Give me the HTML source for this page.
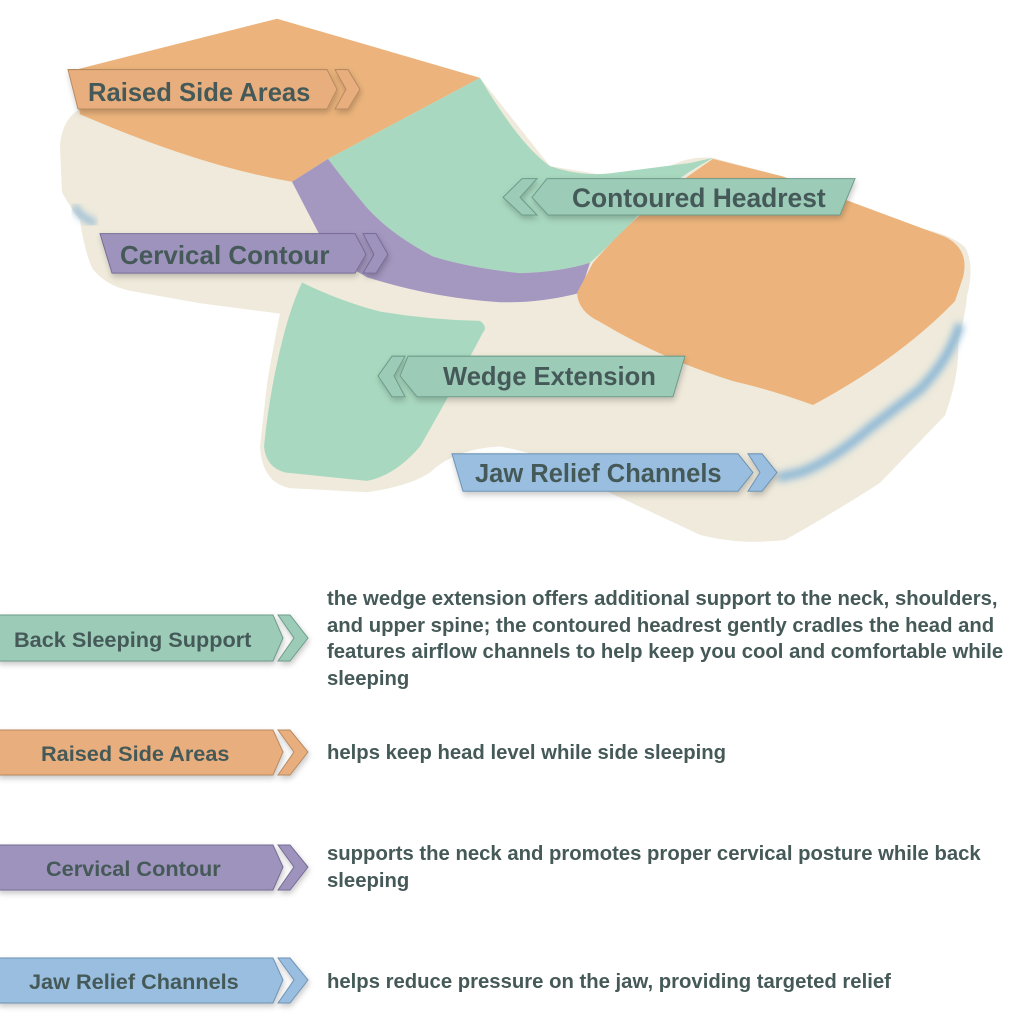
<!DOCTYPE html>
<html><head><meta charset="utf-8"><style>
html,body{margin:0;padding:0;background:#fff;}
svg{display:block;}
text{font-family:"Liberation Sans",sans-serif;font-weight:bold;fill:#455a58;}
</style></head><body>
<svg width="1030" height="1030" viewBox="0 0 1030 1030" xmlns="http://www.w3.org/2000/svg">
<defs>
<filter id="sh" x="-10%" y="-30%" width="120%" height="160%"><feDropShadow dx="1" dy="3" stdDeviation="3" flood-color="#000" flood-opacity="0.22"/></filter>
<filter id="bl"><feGaussianBlur stdDeviation="3.5"/></filter>
</defs>
<g transform="scale(1,1.0385)">
<!-- pillow body -->
<path d="M80,105 Q62,115 60,140 L62,185 Q70,200 80,212 Q84,240 92,258 Q105,275 130,280 L200,292 L280,302 Q272,340 267,370 L260,430 Q262,465 290,470 L367,474 Q410,468 430,455 Q455,432 500,430 Q560,440 600,470 L700,515 Q740,525 785,520 Q840,490 880,465 L945,400 Q960,360 958,330 Q966,300 967,285 Q975,255 965,238 Q950,225 920,220 L783,170 L713,152 Q690,150 670,160 L600,168 L550,160 L480,75 L277,18 Z" fill="#efeadb"/>
<path d="M74,198 Q80,210 96,215" stroke="#8db8d6" stroke-width="6" fill="none" filter="url(#bl)"/>
<path d="M960,312 Q950,345 920,375 L870,412 Q830,445 800,455 L778,460" stroke="#8db8d6" stroke-width="9" fill="none" filter="url(#bl)"/>
<!-- orange left -->
<path d="M72,68 L277,18 L480,75 L328,153 L292,175 Q200,160 80,110 Z" fill="#ecb47c"/>
<!-- green headrest -->
<path d="M328,153 L480,75 Q520,140 550,160 Q580,170 610,167 L690,157 L713,152 Q660,180 633,213 Q605,240 590,253 Q560,262 520,263 Q470,258 433,247 Q390,225 367,200 Q345,175 328,153 Z" fill="#a8d8bf"/>
<!-- purple -->
<path d="M292,175 L328,153 Q345,175 367,200 Q390,225 433,247 Q470,258 520,263 Q560,262 590,253 L580,282 Q540,292 500,291 Q433,287 367,267 Q335,250 320,227 Z" fill="#a497c0"/>
<!-- right orange -->
<path d="M577,282 L593,253 Q640,200 713,153 L783,170 L945,228 Q970,240 963,267 L955,290 Q900,345 813,390 Q770,375 733,367 Q660,345 600,310 Q578,300 577,282 Z" fill="#ecb47c"/>
<!-- wedge green -->
<path d="M302,272 Q340,290 380,300 Q430,308 480,309 Q488,315 483,320 Q450,380 420,430 Q395,458 367,463 L285,455 Q266,450 264,430 Q268,390 277,350 Q288,300 302,272 Z" fill="#a8d8bf"/>
<!-- labels top -->
<g filter="url(#sh)">
<path d="M68,67 L327,67 L337,86 L327,105 L78,105 Z" fill="#e9ae7d" stroke="#b88a60"/>
<path d="M335,67 L348,67 L360,86 L348,105 L335,105 L346,86 Z" fill="#e9ae7d" stroke="#b88a60"/>
<path d="M547,172 L855,172 L840,207 L548,207 L532,190 Z" fill="#9ccbb8" stroke="#6e9c8a"/>
<path d="M537,172 L522,172 L503,190 L522,207 L537,207 L520,190 Z" fill="#9ccbb8" stroke="#6e9c8a"/>
<path d="M100,225 L355,225 L366,245 L355,263 L112,263 Z" fill="#9e93bc" stroke="#766c96"/>
<path d="M363,225 L376,225 L388,245 L376,263 L363,263 L374,245 Z" fill="#9e93bc" stroke="#766c96"/>
<path d="M408,343 L685,343 L673,382 L417,382 L400,362 Z" fill="#9ccbb8" stroke="#6e9c8a"/>
<path d="M405,343 L392,343 L378,362 L392,382 L405,382 L394,362 Z" fill="#9ccbb8" stroke="#6e9c8a"/>
<path d="M452,437 L738,437 L753,455 L738,473 L463,473 Z" fill="#99bedf" stroke="#6e93b6"/>
<path d="M748,437 L762,437 L777,455 L762,473 L748,473 L760,455 Z" fill="#99bedf" stroke="#6e93b6"/>
</g>
</g>
<text x="88" y="101" font-size="25.6">Raised Side Areas</text>
<text x="572" y="207" font-size="26.4">Contoured Headrest</text>
<text x="120" y="264" font-size="26">Cervical Contour</text>
<text x="443" y="385" font-size="25.6">Wedge Extension</text>
<text x="475" y="482" font-size="25.5">Jaw Relief Channels</text>
<!-- bottom legend -->
<g filter="url(#sh)">
<path d="M-2,615 L273,615 L283,638 L273,661 L-2,661 Z" fill="#9ccbb8" stroke="#6e9c8a"/>
<path d="M278,615 L290,615 L308,638 L290,661 L278,661 L294,638 Z" fill="#9ccbb8" stroke="#6e9c8a"/>
<path d="M-2,730 L273,730 L283,752 L273,775 L-2,775 Z" fill="#e9ae7d" stroke="#b88a60"/>
<path d="M278,730 L290,730 L308,752 L290,775 L278,775 L294,752 Z" fill="#e9ae7d" stroke="#b88a60"/>
<path d="M-2,845 L273,845 L283,867 L273,890 L-2,890 Z" fill="#9e93bc" stroke="#766c96"/>
<path d="M278,845 L290,845 L308,867 L290,890 L278,890 L294,867 Z" fill="#9e93bc" stroke="#766c96"/>
<path d="M-2,958 L273,958 L283,980 L273,1003 L-2,1003 Z" fill="#99bedf" stroke="#6e93b6"/>
<path d="M278,958 L290,958 L308,980 L290,1003 L278,1003 L294,980 Z" fill="#99bedf" stroke="#6e93b6"/>
</g>
<g font-size="21.7">
<text x="14" y="647">Back Sleeping Support</text>
<text x="41" y="761">Raised Side Areas</text>
<text x="46" y="876">Cervical Contour</text>
<text x="29" y="989">Jaw Relief Channels</text>
</g>
<g font-size="20.3">
<text x="327" y="605">the wedge extension offers additional support to the neck, shoulders,</text>
<text x="327" y="632">and upper spine; the contoured headrest gently cradles the head and</text>
<text x="327" y="658">features airflow channels to help keep you cool and comfortable while</text>
<text x="327" y="685">sleeping</text>
<text x="327" y="759">helps keep head level while side sleeping</text>
<text x="327" y="860">supports the neck and promotes proper cervical posture while back</text>
<text x="327" y="887">sleeping</text>
<text x="327" y="988">helps reduce pressure on the jaw, providing targeted relief</text>
</g>
</svg>
</body></html>
